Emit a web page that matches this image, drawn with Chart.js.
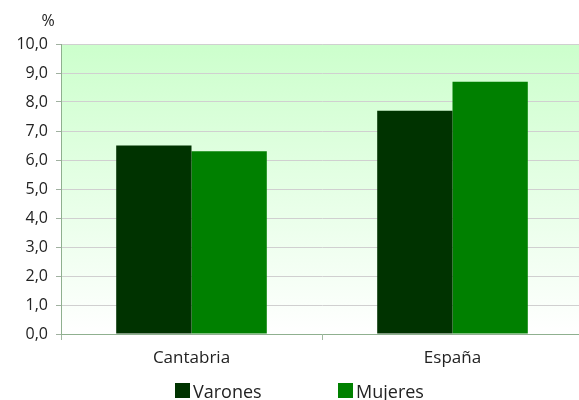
<!DOCTYPE html>
<html>
<head>
<meta charset="utf-8">
<script src="https://cdn.jsdelivr.net/npm/chart.js@4"></script>
<style>
html,body{margin:0;padding:0;background:#fff;overflow:hidden;}
#wrap{position:relative;width:583px;height:400px;}
</style>
</head>
<body>
<div id="wrap"><canvas id="c" width="583" height="400"></canvas></div>
<script>
const categories = ["Cantabria", "España"];
const seriesNames = ["Varones", "Mujeres"];
const varones = [6.5, 7.7];
const mujeres = [6.3, 8.7];
const colors = ["#003300", "#008000"];
const yUnit = "%";
const FONT = "'Open Sans', sans-serif";

const bgPlugin = {
  id: 'bg',
  beforeDraw(chart) {
    const {ctx, chartArea: a} = chart;
    const g = ctx.createLinearGradient(0, a.top, 0, a.bottom);
    g.addColorStop(0, '#ccffcc');
    g.addColorStop(1, '#ffffff');
    ctx.save();
    ctx.fillStyle = g;
    ctx.fillRect(a.left, a.top, a.right - a.left, a.bottom - a.top);
    ctx.restore();
  },
  afterDraw(chart) {
    const {ctx} = chart;
    ctx.save();
    ctx.fillStyle = '#222';
    ctx.font = "16px " + FONT;
    ctx.textAlign = 'center';
    ctx.textBaseline = 'middle';
    ctx.fillText(yUnit, 48, 21);
    // legend
    ctx.font = "18px " + FONT;
    ctx.textAlign = 'left';
    const xs = [175, 338];
    chart.data.datasets.forEach((ds, i) => {
      ctx.fillStyle = ds.backgroundColor;
      ctx.fillRect(xs[i], 383, 15, 15);
      ctx.fillStyle = '#222';
      ctx.fillText(ds.label, xs[i] + 18, 393);
    });
    ctx.restore();
  }
};

new Chart(document.getElementById('c'), {
  type: 'bar',
  data: {
    labels: categories,
    datasets: [
      {label: seriesNames[0], data: varones, backgroundColor: colors[0], borderWidth: 0},
      {label: seriesNames[1], data: mujeres, backgroundColor: colors[1], borderWidth: 0}
    ]
  },
  options: {
    responsive: false,
    animation: false,
    devicePixelRatio: 1,
    layout: {padding: {top: 44, right: 0, bottom: 0, left: 0}},
    plugins: {legend: {display: false}, tooltip: {enabled: false}},
    datasets: {bar: {barPercentage: 1, categoryPercentage: 0.577}},
    scales: {
      x: {
        afterFit(s) { s.height = 66; },
        grid: {drawOnChartArea: false, tickLength: 6, color: '#a0b8a0', offset: true},
        border: {color: '#8fb08f', width: 1},
        ticks: {color: '#222', font: {family: FONT, size: 17}, padding: 8}
      },
      y: {
        min: 0, max: 10,
        afterFit(s) { s.width = 61; },
        grid: {color: '#d0d0d0', tickLength: 5, tickColor: '#a0b0a0'},
        border: {color: '#8fb08f', width: 1},
        ticks: {
          stepSize: 1, color: '#222', padding: 8,
          font: {family: FONT, size: 16},
          callback: v => v.toFixed(1).replace('.', ',')
        }
      }
    }
  },
  plugins: [bgPlugin]
});
</script>
</body>
</html>
